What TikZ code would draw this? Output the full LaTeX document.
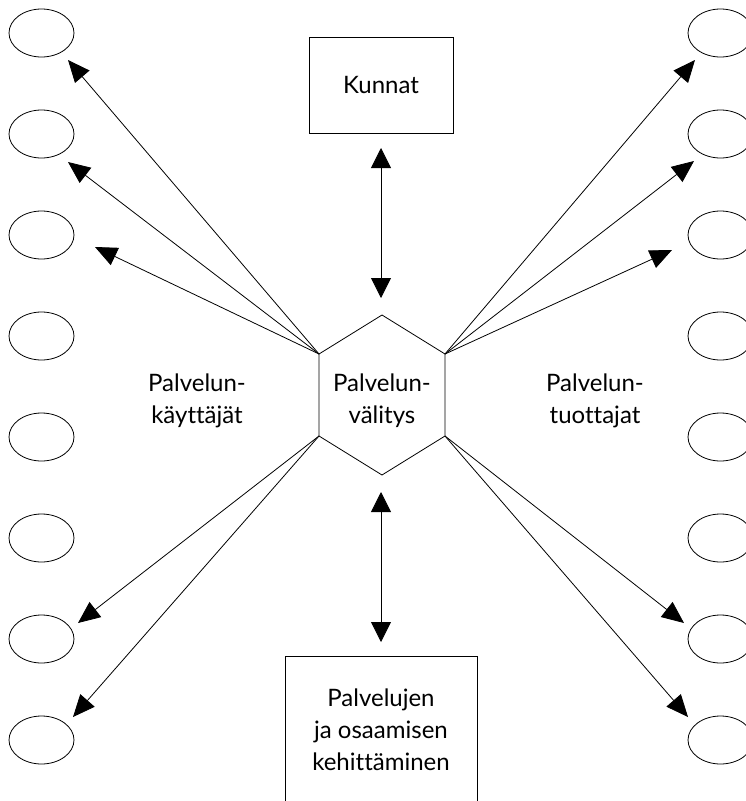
\documentclass[tikz,border=0pt]{standalone}
\usepackage{fontspec}
\setmainfont[Ligatures=NoCommon]{Lato}
\usetikzlibrary{arrows.meta,shapes.geometric}
\begin{document}
\begin{tikzpicture}[x=1pt,y=-1pt,
  line width=0.8pt,
  oval/.style={draw, ellipse, minimum width=65pt, minimum height=48pt, inner sep=0pt},
  label/.style={font=\fontsize{24}{32}\selectfont, align=center, inner sep=0pt},
  link/.style={-{Triangle[length=22pt,width=19pt]}},
  twoway/.style={{Triangle[length=20pt,width=20pt]}-{Triangle[length=20pt,width=20pt]}}]
\useasboundingbox (0,0) rectangle (746,801);
\clip (0,0) rectangle (746,801);

% side ellipses
\foreach \i in {1,...,8} {
  \node[oval] (L\i) at (41.5,{33+101*(\i-1)}) {};
  \node[oval] (R\i) at (720.5,{33+101*(\i-1)}) {};
}

% central hexagon
\coordinate (hT)  at (382,315);
\coordinate (hUR) at (445,354);
\coordinate (hLR) at (445,436);
\coordinate (hB)  at (382,475);
\coordinate (hLL) at (319,436);
\coordinate (hUL) at (319,354);
\draw (hT) -- (hUR) -- (hLR) -- (hB) -- (hLL) -- (hUL) -- cycle;
\node[label] (mid) at (382,401) {Palvelun-\\välitys};

% boxes
\node[draw, minimum width=144pt, minimum height=96pt, label] (kunnat) at (381,85) {Kunnat};
\draw (285,820) -- (285,656) -- (477,656) -- (477,820);
\node[label] (kehitys) at (381,730) {Palvelujen\\ja osaamisen\\kehittäminen};

% side captions
\node[label] (users) at (197,401) {Palvelun-\\käyttäjät};
\node[label] (prod) at (595,401) {Palvelun-\\tuottajat};

% arrow tips
\coordinate (a1) at (68,60);
\coordinate (a2) at (68,162);
\coordinate (a3) at (95,247);
\coordinate (a7) at (78,623);
\coordinate (a8) at (73,717);
\coordinate (b1) at (695,60);
\coordinate (b2) at (694,161);
\coordinate (b3) at (672,250);
\coordinate (b7) at (684,623);
\coordinate (b8) at (688,717);
\coordinate (up1) at (381,148);
\coordinate (up2) at (381,298);
\coordinate (dn1) at (381,492);
\coordinate (dn2) at (381,642);

\foreach \t in {a1,a2,a3} \draw[link] (hUL) -- (\t);
\foreach \t in {a7,a8} \draw[link] (hLL) -- (\t);
\foreach \t in {b1,b2,b3} \draw[link] (hUR) -- (\t);
\foreach \t in {b7,b8} \draw[link] (hLR) -- (\t);
\draw[twoway] (up1) -- (up2);
\draw[twoway] (dn1) -- (dn2);
\end{tikzpicture}
\end{document}
